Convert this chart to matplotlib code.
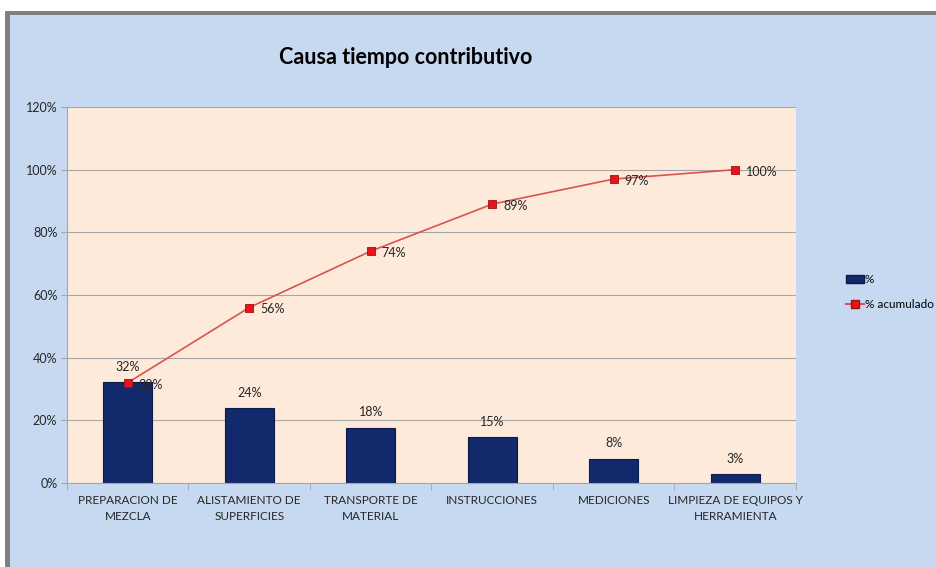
import numpy as np
import matplotlib.pyplot as plt
from matplotlib.patches import Rectangle
from matplotlib.lines import Line2D

plt.rcParams['font.family'] = ['Lato', 'DejaVu Sans']

categorias = ['PREPARACION DE\nMEZCLA', 'ALISTAMIENTO DE\nSUPERFICIES', 'TRANSPORTE DE\nMATERIAL',
              'INSTRUCCIONES', 'MEDICIONES', 'LIMPIEZA DE EQUIPOS Y\nHERRAMIENTA']
porcentaje = [32.2, 23.9, 17.6, 14.6, 7.7, 2.9]
acumulado = [32, 56, 74, 89, 97, 100]

fig = plt.figure(figsize=(9.37, 5.67), dpi=100)
fig.patch.set_facecolor('white')

# fondo azul del grafico y borde gris
fig.patches.append(Rectangle((10 / 937, 0), 1, 1 - 14 / 567, transform=fig.transFigure,
                             facecolor='#C6D9F1', edgecolor='none', zorder=-3))
fig.patches.append(Rectangle((5 / 937, 0), 5 / 937, 1 - 11 / 567, transform=fig.transFigure,
                             facecolor='#7F7F7F', edgecolor='none', zorder=-2))
fig.patches.append(Rectangle((5 / 937, 1 - 15 / 567), 1, 4 / 567, transform=fig.transFigure,
                             facecolor='#7F7F7F', edgecolor='none', zorder=-2))

ax = fig.add_axes([67 / 937, 1 - 483 / 567, (796 - 67) / 937, (483 - 107) / 567])
ax.set_facecolor('#FDEADA')

x = np.arange(len(categorias))
ax.bar(x, porcentaje, width=0.4, color='#12296B', edgecolor='#0A1A4A', linewidth=0.8, zorder=2,
       label='%')
ax.plot(x, acumulado, color='#D9534F', linewidth=1.2, marker='s', markersize=6,
        markerfacecolor='#E8141B', markeredgecolor='#A01010', markeredgewidth=0.6, zorder=3,
        label='% acumulado')

for xi, v in zip(x, porcentaje):
    ax.text(xi, v + 3.0, f'{v:.0f}%', ha='center', va='bottom', fontsize=9, color='#262626')
for xi, v in zip(x, acumulado):
    ax.text(xi + 0.09, v - 0.6, f'{v:.0f}%', ha='left', va='center', fontsize=9, color='#262626')

ax.set_xlim(-0.5, len(categorias) - 0.5)
ax.set_ylim(0, 120)
ax.set_yticks(np.arange(0, 121, 20))
ax.set_yticklabels([f'{t}%' for t in range(0, 121, 20)], fontsize=9, color='#262626')
ax.yaxis.grid(True, color='#A6A6A6', linewidth=0.8, zorder=1)
ax.set_axisbelow(True)

ax.set_xticks(x)
ax.set_xticklabels(categorias, fontsize=8.5, color='#262626', linespacing=1.45)
ax.tick_params(axis='x', length=0, pad=9)
ax.set_xticks(np.arange(-0.5, len(categorias)), minor=True)
ax.tick_params(axis='x', which='minor', length=5, color='#A6A6A6')
ax.tick_params(axis='y', length=4, color='#A6A6A6', pad=3)

for s in ['top', 'right']:
    ax.spines[s].set_visible(False)
ax.spines['left'].set_color('#A6A6A6')
ax.spines['bottom'].set_color('#A6A6A6')

fig.text(406 / 937, 1 - 58 / 567, 'Causa tiempo contributivo', ha='center', va='center',
         fontsize=15.5, fontweight='bold', color='black')

handles = [Rectangle((0, 0), 1, 1, facecolor='#12296B', edgecolor='#0A1A4A'),
           Line2D([], [], color='#D9534F', marker='s', markerfacecolor='#E8141B',
                  markeredgecolor='#A01010', markersize=6)]
fig.legend(handles, ['%', '% acumulado'], loc='upper left', bbox_to_anchor=(846 / 937, 1 - 274 / 567),
           frameon=False, fontsize=8.5, handlelength=1.5, handletextpad=0.1, labelspacing=1.2,
           borderaxespad=0, borderpad=0)

fig.savefig('out.png', dpi=100, facecolor=fig.get_facecolor())
